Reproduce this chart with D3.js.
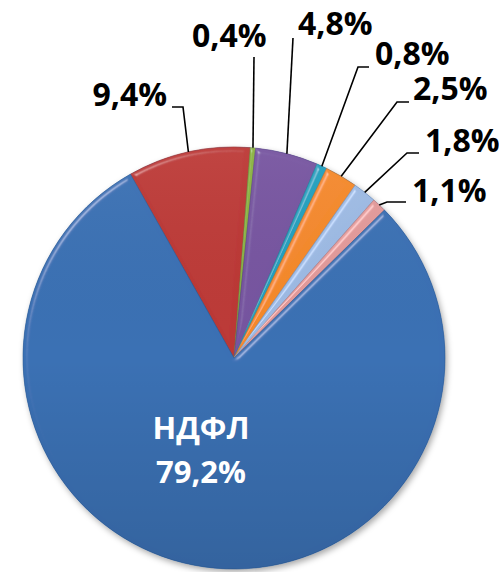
<!DOCTYPE html>
<html><head><meta charset="utf-8">
<script src="https://cdn.jsdelivr.net/npm/d3@7"></script>
<style>html,body{margin:0;padding:0;background:#fff;}svg{display:block;}</style>
</head><body>
<svg id="c" width="499" height="572"></svg>
<script>
// ---- data ----
const categories = ["Прочие 1", "Прочие 2", "Прочие 3", "Прочие 4", "Прочие 5", "Прочие 6", "Прочие 7", "НДФЛ"];
const values = [9.4, 0.4, 4.8, 0.8, 2.5, 1.8, 1.1, 79.2];
const valueLabels = ["9,4%", "0,4%", "4,8%", "0,8%", "2,5%", "1,8%", "1,1%", "79,2%"];
const colors = ["#bc3836", "#8ab33f", "#7654a0", "#22a0be", "#f5892a", "#9dbae4", "#e39a9a", "#3a70b4"];

// ---- layout ----
const W = 499, H = 572, cx = 234, cy = 358, R = 211;
const startAngle = -29.4 * Math.PI / 180;
const labelLayout = [
  {elbow:[183,107], end:[172,107], tx:167, ty:106, anchor:"end"},
  {elbow:[254,57],  end:[254,57],  tx:192, ty:47,  anchor:"start"},
  {elbow:[293,38],  end:[293,38],  tx:298, ty:35,  anchor:"start"},
  {elbow:[358,67],  end:[369,67],  tx:375, ty:65,  anchor:"start"},
  {elbow:[397,102], end:[409,102], tx:413, ty:100, anchor:"start"},
  {elbow:[407,153], end:[419,153], tx:425, ty:152, anchor:"start"},
  {elbow:[387,202], end:[406,202], tx:412, ty:202, anchor:"start"},
  null
];

const svg = d3.select("#c");
const defs = svg.append("defs");

// bevel filter (edge highlight only)
const f = defs.append("filter").attr("id","bevel").attr("x","-10%").attr("y","-10%").attr("width","120%").attr("height","120%");
f.append("feGaussianBlur").attr("in","SourceAlpha").attr("stdDeviation",2.5).attr("result","blur");
const spec = f.append("feSpecularLighting").attr("in","blur").attr("surfaceScale",4).attr("specularConstant",0.8)
  .attr("specularExponent",40).attr("lighting-color","#ffffff").attr("result","spec");
spec.append("feDistantLight").attr("azimuth",225).attr("elevation",35);
f.append("feComposite").attr("in","spec").attr("in2","SourceAlpha").attr("operator","in").attr("result","specIn");
f.append("feComposite").attr("in","SourceGraphic").attr("in2","specIn").attr("operator","arithmetic")
  .attr("k1",0).attr("k2",1).attr("k3",0.35).attr("k4",0);

// drop shadow
const sh = defs.append("filter").attr("id","shadow").attr("x","-10%").attr("y","-10%").attr("width","125%").attr("height","125%");
sh.append("feDropShadow").attr("dx",2).attr("dy",3).attr("stdDeviation",3).attr("flood-color","#000").attr("flood-opacity",0.35);

// vertical shading gradient
const lg = defs.append("linearGradient").attr("id","shade").attr("x1",0).attr("y1",0).attr("x2",0).attr("y2",1);
lg.append("stop").attr("offset","0%").attr("stop-color","#fff").attr("stop-opacity",0.05);
lg.append("stop").attr("offset","50%").attr("stop-color","#000").attr("stop-opacity",0.0);
lg.append("stop").attr("offset","100%").attr("stop-color","#000").attr("stop-opacity",0.12);

const pie = d3.pie().sort(null).value(d => d)
  .startAngle(startAngle).endAngle(startAngle + 2 * Math.PI);
const arcs = pie(values);
const arc = d3.arc().innerRadius(0).outerRadius(R);

const g = svg.append("g").attr("transform", `translate(${cx},${cy})`);
const shadowG = g.append("g").attr("filter","url(#shadow)");
shadowG.append("circle").attr("r", R).attr("fill", colors[7]);

const slices = g.append("g");
slices.selectAll("path").data(arcs).join("path")
  .attr("d", arc)
  .attr("fill", (d,i) => colors[i])
  .attr("stroke", (d,i) => d3.color(colors[i]).darker(0.5))
  .attr("stroke-width", 0.6)
  .attr("filter","url(#bevel)");

g.append("circle").attr("r", R).attr("fill","url(#shade)").attr("pointer-events","none");

// leader lines + labels
const labG = svg.append("g");
arcs.forEach((d,i) => {
  const L = labelLayout[i];
  if (!L) return;
  const mid = (d.startAngle + d.endAngle) / 2;
  const p0 = [cx + R * Math.sin(mid), cy - R * Math.cos(mid)];
  labG.append("polyline")
    .attr("points", [p0, L.elbow, L.end].map(p => p.join(",")).join(" "))
    .attr("fill","none").attr("stroke","#000").attr("stroke-width",1.6);
  labG.append("text")
    .attr("x", L.tx).attr("y", L.ty)
    .attr("text-anchor", L.anchor)
    .attr("font-family","'Open Sans', sans-serif").attr("font-weight",700)
    .attr("font-size",32).attr("fill","#000")
    .text(valueLabels[i]);
});

// inside label for НДФЛ
const mainIdx = 7;
const t = svg.append("text").attr("text-anchor","middle")
  .attr("font-family","'Open Sans', sans-serif").attr("font-weight",700)
  .attr("font-size",31).attr("fill","#fff");
t.append("tspan").attr("x",201).attr("y",439).text(categories[mainIdx]);
t.append("tspan").attr("x",201).attr("y",483).text(valueLabels[mainIdx]);
</script>
</body></html>
